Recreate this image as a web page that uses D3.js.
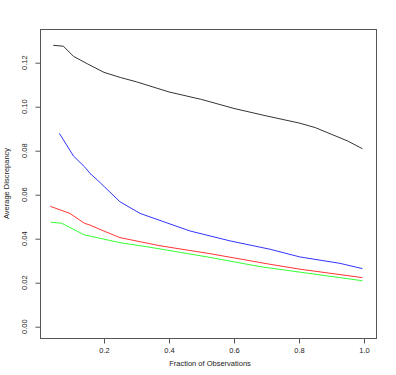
<!DOCTYPE html>
<html><head><meta charset="utf-8">
<script src="https://cdn.jsdelivr.net/npm/d3@7"></script>
<style>body{margin:0;background:#fff}svg{display:block}text{font-family:"Liberation Sans",Arial,sans-serif}</style>
</head><body><div id="c"></div>
<script>
const xTicks = [0.2, 0.4, 0.6, 0.8, 1.0];
const yTicks = [0.00, 0.02, 0.04, 0.06, 0.08, 0.10, 0.12];

const blackX = [0.044, 0.075, 0.106, 0.15, 0.2, 0.25, 0.3, 0.4, 0.5, 0.6, 0.7, 0.8, 0.85, 0.95, 0.995];
const blackY = [0.1279, 0.1275, 0.1229, 0.1194, 0.1156, 0.1133, 0.1113, 0.1067, 0.1033, 0.0992, 0.0958, 0.0926, 0.0905, 0.0844, 0.0809];

const blueX = [0.0625, 0.106, 0.14, 0.157, 0.188, 0.249, 0.311, 0.403, 0.465, 0.588, 0.711, 0.803, 0.926, 0.995];
const blueY = [0.0879, 0.0776, 0.0727, 0.0697, 0.0655, 0.0568, 0.0515, 0.0467, 0.0435, 0.039, 0.0352, 0.0317, 0.0288, 0.0264];

const redX = [0.035, 0.095, 0.14, 0.157, 0.188, 0.249, 0.372, 0.526, 0.706, 0.8, 0.995];
const redY = [0.0547, 0.0515, 0.047, 0.0462, 0.0442, 0.0405, 0.0368, 0.0332, 0.0285, 0.0262, 0.0223];

const greenX = [0.036, 0.07, 0.14, 0.157, 0.249, 0.342, 0.526, 0.68, 0.995];
const greenY = [0.0475, 0.047, 0.0417, 0.0412, 0.0382, 0.0361, 0.0315, 0.0273, 0.0209];

const series = [
  {x: blackX, y: blackY, color: "#000000"},
  {x: blueX, y: blueY, color: "#0000ff"},
  {x: redX, y: redY, color: "#ff0000"},
  {x: greenX, y: greenY, color: "#00ff00"}
];

const W = 396, H = 375;
const box = {l: 40, r: 376, t: 29, b: 338};
const x = d3.scaleLinear().domain([0, 1]).range([39, 364]);
const y = d3.scaleLinear().domain([0, 0.12]).range([326.7, 62.7]);

const svg = d3.select("#c").append("svg").attr("width", W).attr("height", H);

svg.append("rect").attr("x", box.l + 0.5).attr("y", box.t + 0.5)
  .attr("width", box.r - box.l).attr("height", box.b - box.t)
  .attr("fill", "none").attr("stroke", "#555").attr("stroke-width", 1);

const xa = svg.append("g").attr("transform", `translate(0,${box.b + 0.5})`)
  .call(d3.axisBottom(x).tickValues(xTicks).tickFormat(d3.format(".1f")).tickSize(5).tickPadding(4));
xa.select(".domain").remove();
xa.selectAll("line").attr("stroke", "#555");
xa.selectAll("text").attr("font-size", 7.5).attr("fill", "#222").attr("font-family", "Liberation Sans, Arial, sans-serif");

const ya = svg.append("g").attr("transform", `translate(${box.l + 0.5},0)`)
  .call(d3.axisLeft(y).tickValues(yTicks).tickFormat(d3.format(".2f")).tickSize(5).tickPadding(0));
ya.select(".domain").remove();
ya.selectAll(".tick").attr("transform", "translate(0,0)");
ya.selectAll(".tick line").attr("stroke", "#555").attr("y1", d => y(d) + 0.5).attr("y2", d => y(d) + 0.5);
ya.selectAll(".tick text").attr("font-size", 7.5).attr("fill", "#222")
  .attr("font-family", "Liberation Sans, Arial, sans-serif")
  .attr("text-anchor", "middle").attr("x", null).attr("dy", null).attr("y", 0)
  .attr("transform", d => `translate(-14,${y(d)}) rotate(-90)`);

const line = d3.line().x(d => x(d[0])).y(d => y(d[1]));
series.forEach(s => {
  svg.append("path").datum(s.x.map((v, i) => [v, s.y[i]]))
    .attr("d", line).attr("fill", "none").attr("stroke", s.color).attr("stroke-width", 0.8);
});

svg.append("text").attr("x", (box.l + box.r) / 2 + 2).attr("y", 366).attr("text-anchor", "middle")
  .attr("font-size", 7.5).attr("fill", "#222").text("Fraction of Observations");
svg.append("text").attr("transform", `translate(9,${(box.t + box.b) / 2}) rotate(-90)`)
  .attr("text-anchor", "middle").attr("font-size", 7.5).attr("fill", "#222").text("Average Discrepancy");
</script></body></html>
